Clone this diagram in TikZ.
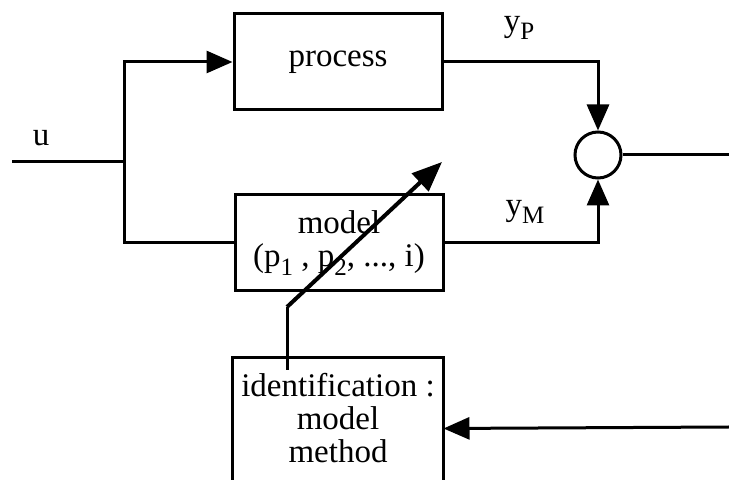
\documentclass[tikz,border=0pt]{standalone}
\usepackage{fontspec}
\setmainfont{Liberation Serif}
\usepackage{tikz}
\usetikzlibrary{arrows.meta,calc,positioning}

\newcommand{\msub}[1]{\raisebox{-0.55ex}{\fontsize{12.5}{12.5}\selectfont #1}}

\begin{document}
\begin{tikzpicture}[x=0.5pt, y=-0.5pt,
        mblock/.style = {draw, line width = 1.5pt, minimum width = 104pt, minimum height = 48pt, inner sep = 0pt},
        msum/.style = {draw, circle, line width = 1.5pt, minimum size = 23pt, inner sep = 0pt},
        mline/.style = {line width = 1.5pt},
        marrow/.style = {arrows = {-Triangle[length=13pt, width=11pt]}, line width = 1.5pt},
        marrowb/.style = {arrows = {-Triangle[length=15pt, width=12pt]}, line width = 2pt},
        every node/.style = {font = \fontsize{16.5}{16.5}\selectfont}
        ]
        \useasboundingbox (0,0) rectangle (729,480);

        \node[mblock] (process) at (338,62) {process};
        \node[mblock, align=center] (model) at (339,243) {model\\(p\msub{1} , p\msub{2}, ..., i)};
        \node[msum] (sum) at (598,155) {};

        % identification block, open at the bottom
        \node[mblock, draw=none, minimum height = 69pt, anchor=north] (ident) at (338,358) {};
        \draw[mline] ($(ident.south west)+(0,-2)$) -- (ident.north west) -- (ident.north east) -- ($(ident.south east)+(0,-2)$);
        \node[align=center] (identtxt) at (338,418) {identification :\\model\\method};

        \coordinate (in) at (12,162);
        \coordinate (branch) at (124,162);
        \coordinate (out) at (729,155);
        \coordinate (fb) at (729,427);
        \coordinate (adjfoot) at (287,370);
        \coordinate (adjbend) at (287,307);
        \coordinate (adjtip) at (442,162);

        \node (u) at (41,138) {u};
        \node (yP) at (519,28) {y\msub{P}};
        \node (yM) at (525,212) {y\msub{M}};

        \draw[mline] (in) -- (branch);
        \draw[marrow] (branch) |- (process.west);
        \draw[mline] (branch) |- (model.west);
        \draw[marrow] (process.east) -| (sum.north);
        \draw[marrow] (model.east) -| (sum.south);
        \draw[mline] (sum.east) -- (out);
        \draw[marrow] (fb) -- (ident.east);

        \draw[mline] (adjfoot) -- (adjbend);
        \draw[marrowb] (adjbend) -- (adjtip);

    \end{tikzpicture}
\end{document}
